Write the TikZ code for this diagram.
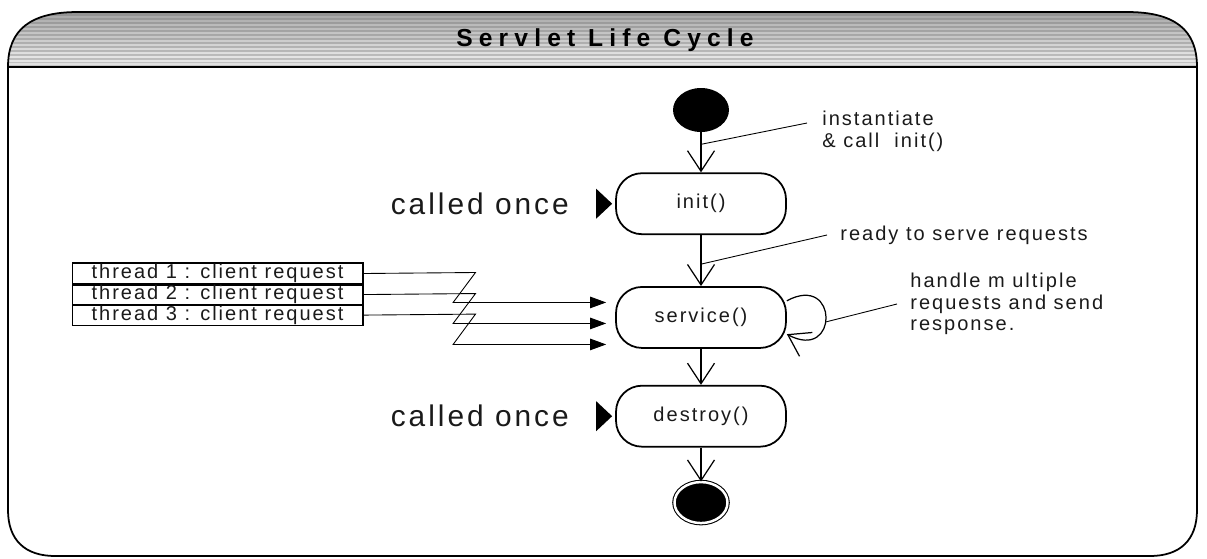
\documentclass[tikz,border=0pt]{standalone}
\usepackage{fontspec}
\setmainfont{Liberation Sans}
\newfontfamily\slfont[LetterSpace=10]{Liberation Sans}
\newfontfamily\oncefont[LetterSpace=10]{Liberation Sans}
\newfontfamily\sltitle[LetterSpace=25]{Liberation Sans}
\usepackage{xcolor}
\definecolor{hdrtop}{HTML}{909090}
\definecolor{hdrmid}{HTML}{A2A2A2}
\definecolor{hdrlow}{HTML}{C6C6C6}
\definecolor{inkgray}{HTML}{1A1A1A}
\usepackage{tikz}
\usetikzlibrary{shapes.geometric,arrows.meta,positioning,calc}

\begin{document}
\begin{tikzpicture}[
  x=0.02cm,y=-0.02cm,
  font=\slfont\fontsize{11.4pt}{12.4pt}\selectfont,
  text=inkgray,
  state/.style={draw,rounded corners=0.52cm,line width=1pt,
    minimum width=3.4cm,minimum height=1.22cm,inner sep=0pt},
  startdot/.style={ellipse,fill=black,minimum width=1.12cm,
    minimum height=0.88cm,inner sep=0pt},
  stopdot/.style={ellipse,draw,fill=black,double=white,
    double distance=1.4pt,line width=0.6pt,
    minimum width=1.06cm,minimum height=0.82cm,inner sep=0pt},
  thread/.style={draw,line width=0.6pt,minimum width=5.82cm,
    minimum height=0.4cm,inner sep=0pt},
  once/.style={inner sep=0pt,
    font=\oncefont\fontsize{17pt}{19pt}\selectfont},
  note/.style={align=left,inner sep=0pt,anchor=west},
  flow/.style={-{Straight Barb[length=0.41cm,width=0.54cm]},
    line width=0.7pt},
  req/.style={-{Triangle[length=0.32cm,width=0.23cm]},line width=0.5pt},
  tag/.style={line width=0.5pt}
]
  \useasboundingbox (0,0) rectangle (1207,558);
  % Frame: striped header and body
  \begin{scope}
    \clip (8,67) .. controls (8,30) and (30,12) .. (78,12)
      -- (1127,12) .. controls (1175,12) and (1197,30) .. (1197,67) -- cycle;
    \shade[top color=hdrtop,middle color=hdrmid,bottom color=hdrlow]
      (0,10) rectangle (1207,67);
    \foreach \y/\op in {17/0.2,21/0.25,25/0.3,29/0.3,33/0.35,37/0.35,
        41/0.4,45/0.45,49/0.5,53/0.55,57/0.6,61/0.6,64/0.5}
      \draw[white,opacity=\op,line width=0.9pt] (0,\y) -- (1207,\y);
  \end{scope}
  \draw[line width=1pt] (8,67) .. controls (8,30) and (30,12) .. (78,12)
    -- (1127,12) .. controls (1175,12) and (1197,30) .. (1197,67) -- cycle;
  \draw[line width=1pt] (8,67) -- (8,510) .. controls (8,540) and (25,556) .. (55,556)
    -- (1150,556) .. controls (1180,556) and (1197,540) .. (1197,510) -- (1197,67);
  \node[font=\sltitle\bfseries\fontsize{14pt}{16pt}\selectfont,text=black]
    (title) at (605,40) {Servlet Life Cycle};
  % States
  \node[startdot]                        (start)   at (701,110) {};
  \node[state,below=0.8cm of start]      (init)    {init()};
  \node[state,below=1.02cm of init]      (service) {service()};
  \node[state,below=0.72cm of service]   (destroy) {destroy()};
  \node[stopdot,below=0.68cm of destroy] (stop)    {};
  % Called once labels
  \node[once,left=0.92cm of init]    (once1) {called once};
  \node[once,left=0.92cm of destroy] (once2) {called once};
  \fill (init.west) ++(-3,0) -- ++(-16,-15) -- ++(0,30) -- cycle;
  \fill (destroy.west) ++(-3,0) -- ++(-16,-15) -- ++(0,30) -- cycle;
  % Client threads
  \node[thread,minimum height=0.42cm] (thr1) at (217.5,273.5)
    {thread 1 : client request};
  \node[thread,below=0pt of thr1,minimum height=0.38cm] (thr2)
    {thread 2 : client request};
  \node[thread,below=0pt of thr2] (thr3) {thread 3 : client request};
  % Notes
  \node[note] (instnote)  at (822,131) {instantiate\\\&~call~~init()};
  \node[note] (readynote) at (840,235) {ready to serve requests};
  \node[note] (loopnote)  at (910,304)
    {handle m ultiple\\requests and send\\response.};
  % Arrows
  \draw[flow] (start) -- (init);
  \draw[flow] (init) -- (service);
  \draw[flow] (service) -- (destroy);
  \draw[flow] (destroy) -- (stop);
  \draw[flow] (service.11) .. controls +(52,-28) and +(52,28) .. (service.-11)
    coordinate[pos=0.55] (loopmid);
  \draw[req] (thr1.east) -- ++(112,-1) -- ([shift={(-162,-15)}]service.west)
    -- ([shift={(-9,-15)}]service.west);
  \draw[req] (thr2.east) -- ++(112,-1) -- ([shift={(-162,6)}]service.west)
    -- ([shift={(-9,6)}]service.west);
  \draw[req] (thr3.east) -- ++(112,-1) -- ([shift={(-162,27)}]service.west)
    -- ([shift={(-9,27)}]service.west);
  % Note lines
  \draw[tag] ($(start.south)!0.3!(init.north)$) -- ([shift={(-15,-8)}]instnote.west);
  \draw[tag] ($(init.south)!0.57!(service.north)$) -- ([shift={(-13,0)}]readynote.west);
  \draw[tag] (loopmid) -- ([shift={(-13,0)}]loopnote.west);
\end{tikzpicture}
\end{document}
